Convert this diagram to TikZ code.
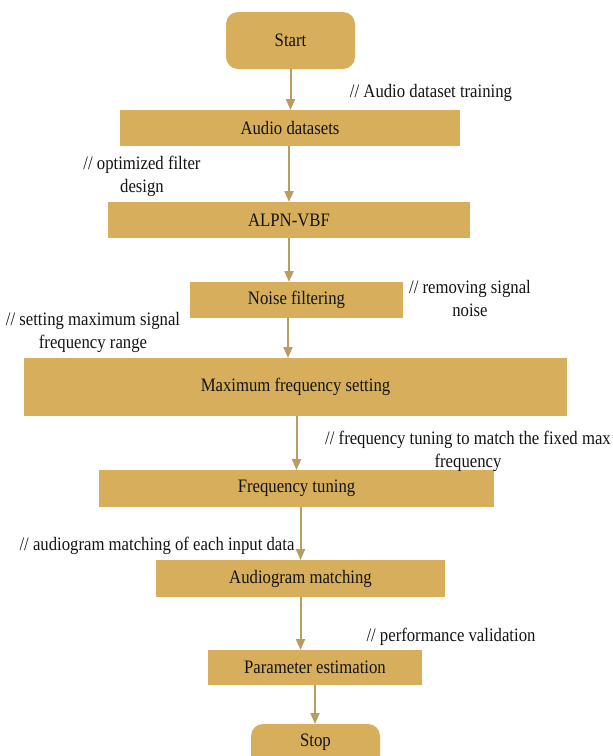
\documentclass[tikz,border=0pt]{standalone}
\usepackage{fontspec}
\setmainfont[FakeStretch=0.88]{Liberation Serif}
\usetikzlibrary{arrows.meta,calc}
\definecolor{boxfill}{RGB}{214,174,92}
\definecolor{arrowcol}{RGB}{184,156,96}
\definecolor{txt}{RGB}{20,20,20}
\tikzset{
  proc/.style={rectangle, fill=boxfill, inner sep=0pt, outer sep=0pt},
  term/.style={proc, rounded corners=12pt},
  arr/.style={draw=arrowcol, line width=2pt, -{Triangle[width=9pt,length=11pt]}},
  note/.style={align=center, inner sep=0pt},
}
\begin{document}
\begin{tikzpicture}[x=1pt, y=-1pt, every node/.style={font=\fontsize{19}{23}\selectfont, text=txt}]
\useasboundingbox (0,0) rectangle (613,756);
\clip (0,0) rectangle (613,756);
% boxes
\node[term, minimum width=129pt, minimum height=57pt] (start) at (290.5,40.5) {Start};
\node[proc, minimum width=340pt, minimum height=36pt] (audio) at (290,128) {Audio datasets};
\node[proc, minimum width=362pt, minimum height=36pt] (alpn) at (289,220) {ALPN-VBF};
\node[proc, minimum width=213pt, minimum height=36pt] (noise) at (296.5,300) {Noise filtering};
\node[proc, minimum width=543pt, minimum height=58pt] (maxf) at (295.5,387) {Maximum frequency setting};
\node[proc, minimum width=395pt, minimum height=37pt] (ftune) at (296.5,488.5) {Frequency tuning};
\node[proc, minimum width=289pt, minimum height=37pt] (audiogram) at (300.5,578.5) {Audiogram matching};
\node[proc, minimum width=214pt, minimum height=35pt] (param) at (315,667.5) {Parameter estimation};
\node[term, minimum width=129pt, minimum height=57pt] (stop) at (315.5,752.5) {};
\node (stoplabel) at (315.5,742) {Stop};
% notes
\node[note] (n1) at (431,92.5) {// Audio dataset training};
\node[note] (n2) at (142,176) {// optimized filter\\design};
\node[note] (n3) at (470,298.5) {// removing signal\\noise};
\node[note] (n4) at (93,332.5) {// setting maximum signal\\frequency range};
\node[note] (n5) at (468,451.5) {// frequency tuning to match the fixed max\\frequency};
\node[note] (n6) at (157,545.5) {// audiogram matching of each input data};
\node[note] (n7) at (451,636.5) {// performance validation};
% connectors
\draw[arr] (start.south) -- (start.south |- audio.north);
\draw[arr] (audio.south -| alpn.north) -- (alpn.north);
\draw[arr] (alpn.south) -- (alpn.south |- noise.north);
\draw[arr] ($(noise.south)+(-8.5,0)$) -- ($(noise.south |- maxf.north)+(-8.5,0)$);
\draw[arr] (maxf.south -| ftune.north) -- (ftune.north);
\draw[arr] (ftune.south -| audiogram.north) -- (audiogram.north);
\draw[arr] (audiogram.south) -- (audiogram.south |- param.north);
\draw[arr] (param.south) -- (param.south |- stop.north);
\end{tikzpicture}
\end{document}
